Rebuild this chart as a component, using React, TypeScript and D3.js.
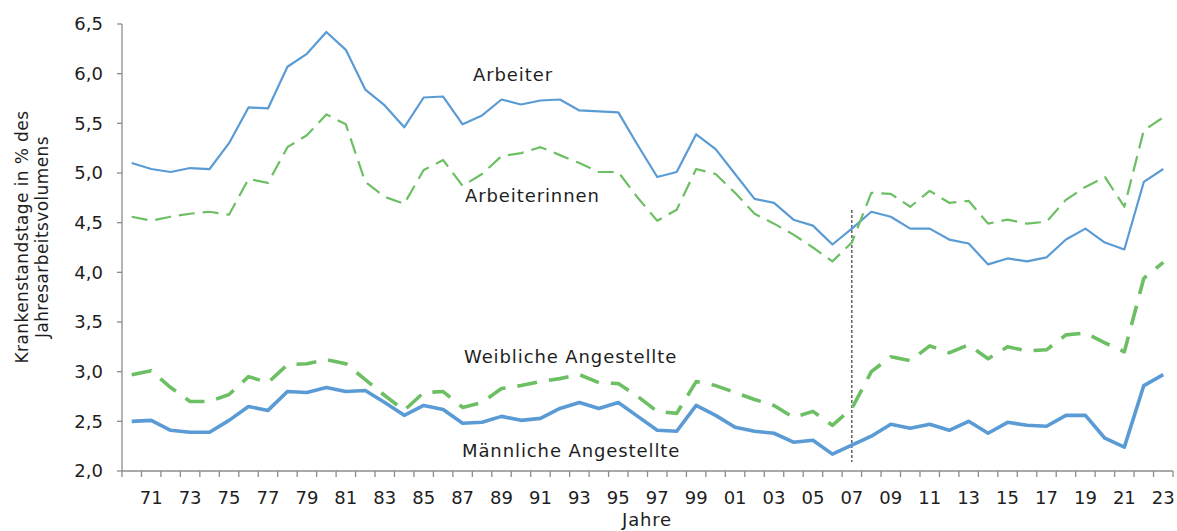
import React from 'react';
import * as d3 from 'd3';

const years = d3.range(1970, 2024);

const arbeiter = [
  5.10, 5.04, 5.01, 5.05, 5.04, 5.30, 5.66, 5.65, 6.07, 6.20,
  6.42, 6.24, 5.84, 5.68, 5.46, 5.76, 5.77, 5.49, 5.58, 5.74,
  5.69, 5.73, 5.74, 5.63, 5.62, 5.61, 5.28, 4.96, 5.01, 5.39,
  5.24, 4.99, 4.74, 4.70, 4.53, 4.47, 4.28, 4.44, 4.61, 4.56,
  4.44, 4.44, 4.33, 4.29, 4.08, 4.14, 4.11, 4.15, 4.33, 4.44,
  4.30, 4.23, 4.91, 5.04,
];

const arbeiterinnen = [
  4.56, 4.52, 4.56, 4.59, 4.61, 4.58, 4.94, 4.90, 5.26, 5.38,
  5.59, 5.49, 4.91, 4.76, 4.69, 5.03, 5.13, 4.87, 4.99, 5.17,
  5.20, 5.26, 5.18, 5.10, 5.01, 5.01, 4.75, 4.52, 4.63, 5.04,
  4.99, 4.80, 4.59, 4.49, 4.38, 4.25, 4.11, 4.30, 4.80, 4.79,
  4.66, 4.82, 4.70, 4.72, 4.49, 4.53, 4.49, 4.51, 4.73, 4.86,
  4.96, 4.66, 5.43, 5.56,
];

const weiblAngestellte = [
  2.97, 3.01, 2.84, 2.70, 2.70, 2.77, 2.95, 2.89, 3.07, 3.08,
  3.12, 3.08, 2.92, 2.76, 2.61, 2.79, 2.80, 2.64, 2.69, 2.83,
  2.86, 2.90, 2.93, 2.97, 2.89, 2.88, 2.75, 2.60, 2.58, 2.90,
  2.86, 2.79, 2.72, 2.66, 2.54, 2.60, 2.46, 2.63, 3.00, 3.15,
  3.11, 3.26, 3.19, 3.27, 3.13, 3.25, 3.21, 3.22, 3.37, 3.39,
  3.29, 3.20, 3.94, 4.10,
];

const maennlAngestellte = [
  2.50, 2.51, 2.41, 2.39, 2.39, 2.51, 2.65, 2.61, 2.80, 2.79,
  2.84, 2.80, 2.81, 2.69, 2.56, 2.66, 2.62, 2.48, 2.49, 2.55,
  2.51, 2.53, 2.63, 2.69, 2.63, 2.69, 2.55, 2.41, 2.40, 2.66,
  2.56, 2.44, 2.40, 2.38, 2.29, 2.31, 2.17, 2.26, 2.35, 2.47,
  2.43, 2.47, 2.41, 2.50, 2.38, 2.49, 2.46, 2.45, 2.56, 2.56,
  2.33, 2.24, 2.86, 2.97,
];

const yTicks = [2.0, 2.5, 3.0, 3.5, 4.0, 4.5, 5.0, 5.5, 6.0, 6.5];
const markerYear = 2007;

const BLUE = '#5b9bd5';
const GREEN = '#6dbf64';
const AXIS = '#8c8c8c';
const FONT = '"DejaVu Sans", sans-serif';
const TXT = '#1e1e1e';

const series = [
  { name: 'Arbeiter', values: arbeiter, color: BLUE, width: 2.2, dash: null },
  { name: 'Arbeiterinnen', values: arbeiterinnen, color: GREEN, width: 2.2, dash: '16,8' },
  { name: 'Weibliche Angestellte', values: weiblAngestellte, color: GREEN, width: 3.6, dash: '20,12' },
  { name: 'Männliche Angestellte', values: maennlAngestellte, color: BLUE, width: 3.6, dash: null },
];

const labels = [
  { text: 'Arbeiter', x: 473, y: 81 },
  { text: 'Arbeiterinnen', x: 465, y: 202 },
  { text: 'Weibliche Angestellte', x: 464, y: 363 },
  { text: 'Männliche Angestellte', x: 462, y: 457 },
];

const W = 1177;
const H = 531;

export default function App() {
  const x = d3.scaleBand<number>().domain(years).range([122, 1173]);
  const y = d3.scaleLinear().domain([2, 6.5]).range([471, 24]);
  const cx = (yr: number) => (x(yr) as number) + x.bandwidth() / 2;

  const line = d3
    .line<number>()
    .x((_, i) => cx(years[i]))
    .y((d) => y(d));

  const boundaries = years.map((yr) => x(yr) as number).concat([x.range()[1]]);

  return (
    <svg
      width={W}
      height={H}
      style={{ position: 'absolute', left: 0, top: 0, background: '#fff' }}
      fontFamily={FONT}
    >
      {/* y axis */}
      <line x1={122} x2={122} y1={y(6.5)} y2={y(2)} stroke={AXIS} strokeWidth={1.3} />
      {yTicks.map((t) => (
        <g key={t}>
          <line x1={117} x2={122} y1={y(t)} y2={y(t)} stroke={AXIS} strokeWidth={1.3} />
          <text x={103} y={y(t)} dy="0.36em" textAnchor="end" fontSize={18} fill={TXT}>
            {d3.format('.1f')(t).replace('.', ',')}
          </text>
        </g>
      ))}
      <text
        transform="translate(28,237) rotate(-90)"
        textAnchor="middle"
        fontSize={17}
        letterSpacing={0.4}
        fill={TXT}
      >
        <tspan x={0} dy={0}>Krankenstandstage in % des</tspan>
        <tspan x={0} dy={20}>Jahresarbeitsvolumens</tspan>
      </text>

      {/* x axis */}
      <line x1={122} x2={1173} y1={y(2)} y2={y(2)} stroke={AXIS} strokeWidth={1.3} />
      {boundaries.map((b, i) => (
        <line key={i} x1={b} x2={b} y1={y(2)} y2={y(2) + 6} stroke={AXIS} strokeWidth={1.3} />
      ))}
      {years
        .filter((yr) => yr % 2 === 1)
        .map((yr) => (
          <text key={yr} x={cx(yr)} y={504} textAnchor="middle" fontSize={18} fill={TXT}>
            {String(yr % 100).padStart(2, '0')}
          </text>
        ))}
      <text x={647} y={526} textAnchor="middle" fontSize={18} letterSpacing={0.8} fill={TXT}>
        Jahre
      </text>

      {/* 2007 marker */}
      <line
        x1={cx(markerYear)}
        x2={cx(markerYear)}
        y1={210}
        y2={462}
        stroke="#111"
        strokeWidth={1}
        strokeDasharray="3,2"
      />

      {series.map((s) => (
        <path
          key={s.name}
          d={line(s.values) || ''}
          fill="none"
          stroke={s.color}
          strokeWidth={s.width}
          strokeDasharray={s.dash || undefined}
          strokeLinejoin="round"
        />
      ))}

      {labels.map((l) => (
        <text key={l.text} x={l.x} y={l.y} fontSize={18} letterSpacing={0.9} fill={TXT}>
          {l.text}
        </text>
      ))}
    </svg>
  );
}
